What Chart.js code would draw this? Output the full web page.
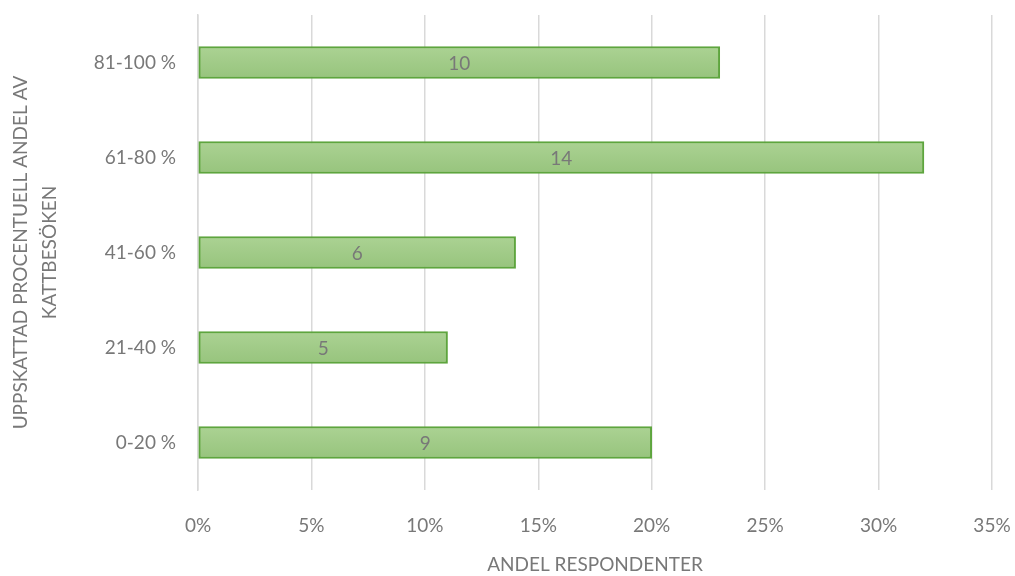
<!DOCTYPE html>
<html>
<head>
<meta charset="utf-8">
<script src="https://cdn.jsdelivr.net/npm/chart.js@4/dist/chart.umd.min.js"></script>
<style>
html,body{margin:0;padding:0;background:#fff;}
#wrap{width:1015px;height:576px;position:relative;}
</style>
</head>
<body>
<div id="wrap"><canvas id="c"></canvas></div>
<script>
const categories = ['81-100 %', '61-80 %', '41-60 %', '21-40 %', '0-20 %'];
const shares = [23, 32, 14, 11, 20];
const counts = [10, 14, 6, 5, 9];
const xTickStep = 5;
const xMax = 35;
const yTitle = ['UPPSKATTAD PROCENTUELL ANDEL AV', 'KATTBESÖKEN'];
const xTitle = 'ANDEL RESPONDENTER';

const FONT = 'Lato, "Liberation Sans", sans-serif';
const TEXT = '#787878';
const BAR_T = 32;

function barGradient(ctx) {
  const chart = ctx.chart;
  const y = chart.scales.y;
  if (!y || ctx.dataIndex === undefined) return '#a3cc88';
  const cy = y.getPixelForValue(ctx.dataIndex);
  if (!isFinite(cy)) return '#a3cc88';
  const g = chart.ctx.createLinearGradient(0, cy - BAR_T / 2, 0, cy + BAR_T / 2);
  g.addColorStop(0, '#abd293');
  g.addColorStop(1, '#97c47d');
  return g;
}

function zeroPad(s) {
  s.paddingTop = 0; s.paddingBottom = 0; s.paddingLeft = 0; s.paddingRight = 0;
}

const labelPlugin = {
  id: 'countLabels',
  afterDatasetsDraw(chart) {
    const ctx = chart.ctx;
    const meta = chart.getDatasetMeta(0);
    ctx.save();
    ctx.font = '19px ' + FONT;
    ctx.fillStyle = TEXT;
    ctx.textAlign = 'center';
    ctx.textBaseline = 'middle';
    meta.data.forEach((bar, i) => {
      const cx = (bar.x + bar.base) / 2;
      ctx.fillText(String(counts[i]), cx, bar.y + 1);
    });
    ctx.restore();
  }
};

new Chart(document.getElementById('c'), {
  type: 'bar',
  data: {
    labels: categories,
    datasets: [{
      data: shares,
      backgroundColor: barGradient,
      borderColor: '#5ea53e',
      borderWidth: 2,
      borderSkipped: false,
      barThickness: BAR_T
    }]
  },
  options: {
    indexAxis: 'y',
    responsive: true,
    maintainAspectRatio: false,
    animation: false,
    layout: { padding: { top: 15, right: 23, left: 0, bottom: 0 } },
    plugins: { legend: { display: false }, tooltip: { enabled: false } },
    scales: {
      x: {
        min: 0, max: xMax,
        afterFit(s) { s.height = 86; zeroPad(s); },
        ticks: {
          stepSize: xTickStep,
          callback: v => v + '%',
          color: TEXT,
          font: { family: FONT, size: 19 },
          padding: 24
        },
        grid: { color: '#d9d9d9', lineWidth: 1.5, drawTicks: false },
        border: { display: false },
        title: {
          display: true, text: xTitle, color: TEXT,
          font: { family: FONT, size: 19 },
          padding: { top: 0, bottom: 0 }
        }
      },
      y: {
        afterFit(s) { s.width = 198; zeroPad(s); },
        ticks: {
          color: TEXT,
          font: { family: FONT, size: 19 },
          padding: 22
        },
        grid: { display: false, drawTicks: false },
        border: { display: true, color: '#d9d9d9', width: 1.5 },
        title: {
          display: true, text: yTitle, color: TEXT,
          font: { family: FONT, size: 19, lineHeight: 1.5 },
          padding: { top: 7, bottom: 0 }
        }
      }
    }
  },
  plugins: [labelPlugin]
});
</script>
</body>
</html>
